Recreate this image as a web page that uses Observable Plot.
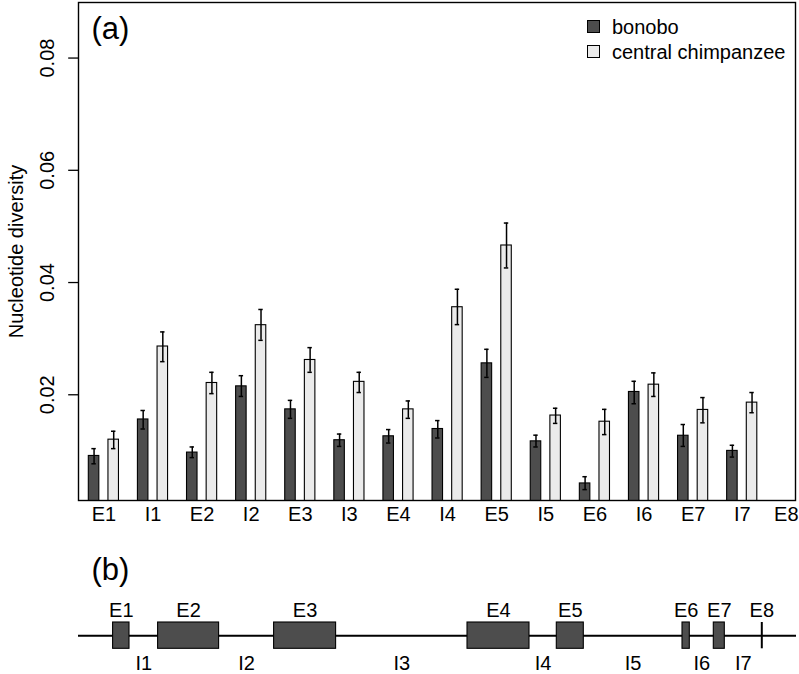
<!DOCTYPE html>
<html>
<head>
<meta charset="utf-8">
<script src="https://cdn.jsdelivr.net/npm/d3@7"></script>
<script src="https://cdn.jsdelivr.net/npm/@observablehq/plot@0.6"></script>
<style>
  html, body { margin: 0; padding: 0; background: #fff; }
  #wrap { position: relative; width: 799px; height: 674px; font-family: "Liberation Sans", Arial, Helvetica, sans-serif; }
  #a, #b { position: absolute; left: 0; }
  #a { top: 0; }
  #b { top: 530px; }
  .leg { position: absolute; left: 587px; font-size: 20px; line-height: 20px; color: #000; }
  .leg span.sw { display: inline-block; width: 11px; height: 11px; border: 1px solid #000; vertical-align: middle; margin-right: 12px; position: relative; top: -2px; }
</style>
</head>
<body>
<div id="wrap">
  <div id="a"></div>
  <div id="b"></div>
  <div class="leg" style="top:17px;"><span class="sw" style="background:#4d4d4d"></span>bonobo</div>
  <div class="leg" style="top:42px;"><span class="sw" style="background:#ebebeb"></span>central chimpanzee</div>
</div>
<script>
// ---- Panel (a) data ----
const groups = ["E1","I1","E2","I2","E3","I3","E4","I4","E5","I5","E6","I6","E7","I7","E8"];
const bonobo   = [0.0091, 0.0156, 0.0097, 0.0215, 0.0174, 0.0119, 0.0126, 0.0139, 0.0256, 0.0117, 0.0042, 0.0205, 0.0127, 0.0100, null];
const bonoboLo = [0.0077, 0.0139, 0.0088, 0.0197, 0.0158, 0.0108, 0.0114, 0.0123, 0.0231, 0.0107, 0.0031, 0.0184, 0.0108, 0.0089, null];
const bonoboHi = [0.0104, 0.0172, 0.0107, 0.0234, 0.0190, 0.0130, 0.0138, 0.0154, 0.0281, 0.0128, 0.0054, 0.0224, 0.0147, 0.0110, null];
const chimp    = [0.0120, 0.0286, 0.0221, 0.0324, 0.0262, 0.0223, 0.0174, 0.0356, 0.0466, 0.0163, 0.0152, 0.0218, 0.0173, 0.0186, null];
const chimpLo  = [0.0104, 0.0259, 0.0202, 0.0297, 0.0240, 0.0204, 0.0158, 0.0325, 0.0426, 0.0149, 0.0129, 0.0197, 0.0150, 0.0168, null];
const chimpHi  = [0.0135, 0.0312, 0.0240, 0.0352, 0.0284, 0.0240, 0.0189, 0.0388, 0.0506, 0.0176, 0.0174, 0.0239, 0.0195, 0.0204, null];
const species = ["bonobo", "central chimpanzee"];
const yTickValues = [0.02, 0.04, 0.06, 0.08];
const yTickLabels = ["0.02", "0.04", "0.06", "0.08"];
const yLabel = "Nucleotide diversity";

// ---- Panel (b) data: gene structure (relative positions) ----
const exonNames  = ["E1","E2","E3","E4","E5","E6","E7","E8"];
const exonStart  = [34.6, 79.6, 195.6, 389.0, 478.3, 604.0, 635.3, 683.3];
const exonEnd    = [51.0, 140.6, 257.6, 451.0, 505.3, 611.3, 646.3, 683.3];
const intronNames = ["I1","I2","I3","I4","I5","I6","I7"];
const geneLength = 718;

const FONT = "Liberation Sans, Arial, Helvetica, sans-serif";
const dark = "#4d4d4d", light = "#ebebeb";
const off = 0.2, hw = 0.107, cap = 0.045;
const xMin = -0.517, xMax = 14.085;

const rows = [];
groups.forEach((g, i) => {
  if (bonobo[i] != null) rows.push({i, sp: species[0], v: bonobo[i], lo: bonoboLo[i], hi: bonoboHi[i], xc: i - off});
  if (chimp[i] != null) rows.push({i, sp: species[1], v: chimp[i], lo: chimpLo[i], hi: chimpHi[i], xc: i + off});
});
const lastIdx = groups.length - 1;

const plotA = Plot.plot({
  width: 799, height: 530,
  marginLeft: 78, marginRight: 4, marginTop: 2, marginBottom: 30,
  style: {fontFamily: FONT, background: "white"},
  x: {domain: [xMin, xMax], axis: null},
  y: {domain: [0.00116, 0.0899], axis: null},
  marks: [
    Plot.rect(rows, {x1: d => d.xc - hw, x2: d => d.xc + hw, y1: 0, y2: "v",
      fill: d => d.sp === species[0] ? dark : light, stroke: "black", strokeWidth: 1.1, clip: true}),
    Plot.ruleX(rows, {x: "xc", y1: "lo", y2: "hi", stroke: "black", strokeWidth: 1.5}),
    Plot.ruleY(rows, {y: "lo", x1: d => d.xc - cap, x2: d => d.xc + cap, stroke: "black", strokeWidth: 1.5}),
    Plot.ruleY(rows, {y: "hi", x1: d => d.xc - cap, x2: d => d.xc + cap, stroke: "black", strokeWidth: 1.5}),
    Plot.frame({stroke: "black", strokeWidth: 1.4}),
    Plot.ruleY(yTickValues, {y: d => d, x1: xMin - 0.2, x2: xMin, stroke: "black", strokeWidth: 1.3}),
    Plot.text(yTickValues, {y: d => d, text: (d, k) => yTickLabels[k], frameAnchor: "left", rotate: -90, dx: -31, fontSize: 20, textAnchor: "middle", lineAnchor: "middle"}),
    Plot.text([yLabel], {frameAnchor: "left", rotate: -90, dx: -62, fontSize: 20, textAnchor: "middle", lineAnchor: "middle"}),
    Plot.text(groups.slice(0, lastIdx), {x: (d, i) => i, text: d => d, frameAnchor: "bottom", dy: 14, fontSize: 20, lineAnchor: "middle"}),
    Plot.text([groups[lastIdx]], {x: lastIdx, text: d => d, frameAnchor: "bottom", dy: 14, dx: -5, fontSize: 20, lineAnchor: "middle"}),
    Plot.text(["(a)"], {frameAnchor: "top-left", dx: 13, dy: 27, fontSize: 31, textAnchor: "start", lineAnchor: "middle"})
  ]
});
document.getElementById("a").append(plotA);

const exons = exonNames.map((n, k) => ({n, s: exonStart[k], e: exonEnd[k]}));
const introns = intronNames.map((n, k) => ({n, m: (exonEnd[k] + exonStart[k + 1]) / 2}));

const plotB = Plot.plot({
  width: 799, height: 144,
  marginLeft: 78, marginRight: 3, marginTop: 0, marginBottom: 0,
  style: {fontFamily: FONT, background: "white"},
  x: {domain: [0, geneLength], axis: null},
  y: {domain: [-1, 1], range: [118.3, 92], axis: null},
  marks: [
    Plot.ruleY([0], {x1: 0, x2: geneLength, stroke: "black", strokeWidth: 2}),
    Plot.rect(exons.filter(d => d.e > d.s), {x1: "s", x2: "e", y1: -1, y2: 1, fill: dark, stroke: "black", strokeWidth: 1.1}),
    Plot.ruleX(exons.filter(d => d.e === d.s), {x: "s", y1: -1, y2: 1, stroke: "black", strokeWidth: 2}),
    Plot.text(exons, {x: d => (d.s + d.e) / 2, y: 1, text: "n", dy: -12, fontSize: 20, lineAnchor: "middle"}),
    Plot.text(introns, {x: "m", y: -1, text: "n", dy: 15, fontSize: 20, lineAnchor: "middle"}),
    Plot.text(["(b)"], {frameAnchor: "top-left", dx: 13, dy: 40, fontSize: 31, textAnchor: "start", lineAnchor: "middle"})
  ]
});
document.getElementById("b").append(plotB);
</script>
</body>
</html>
